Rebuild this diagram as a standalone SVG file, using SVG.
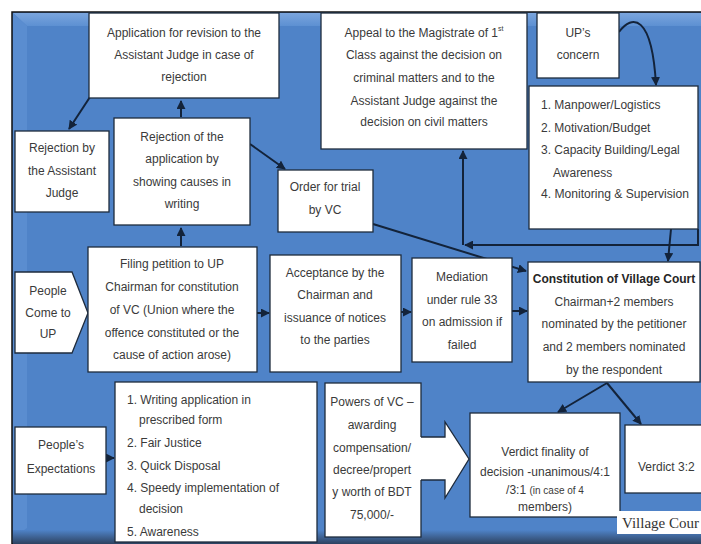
<svg xmlns="http://www.w3.org/2000/svg" width="701" height="544" viewBox="0 0 701 544">
<defs>
<style>
.box{fill:#ffffff;stroke:#1e2b3c;stroke-width:1.3}
.t{font-family:"Liberation Sans",Arial,sans-serif;font-size:12px;fill:#3a3a3a}
.c{text-anchor:middle}
.b{font-weight:bold;fill:#262626}
.ln{fill:none;stroke:#13233a;stroke-width:2}
</style>
<marker id="ah" viewBox="0 0 10 10" refX="9" refY="5" markerUnits="userSpaceOnUse" markerWidth="9" markerHeight="9" orient="auto">
<path d="M0,0 L10,5 L0,10 z" fill="#13233a"/>
</marker>
<linearGradient id="bot" x1="0" y1="0" x2="0" y2="1">
<stop offset="0" stop-color="#4f83c8"/>
<stop offset="1" stop-color="#2d4260"/>
</linearGradient>
<linearGradient id="topg" x1="0" y1="0" x2="0" y2="1">
<stop offset="0" stop-color="#7aa5dd"/>
<stop offset="1" stop-color="#5d90d2"/>
</linearGradient>
</defs>
<rect x="0" y="0" width="701" height="544" fill="#ffffff"/>
<g id="panel">
<rect x="12" y="12" width="700" height="532" fill="#4f83c8" stroke="#111111" stroke-width="1.5"/>
<polygon points="13,13 701,13 701,26 27,26" fill="url(#topg)"/>
<polygon points="13,13 27,26 27,528 13,538" fill="#5a8dd0"/>
<rect x="13" y="530" width="688" height="14" fill="url(#bot)"/>
</g>
<g id="connectors">
<path class="ln" d="M181,117 V101" marker-end="url(#ah)"/>
<path class="ln" d="M90,97 L69,129" marker-end="url(#ah)"/>
<path class="ln" d="M250,144 L285,169" marker-end="url(#ah)"/>
<path class="ln" d="M181,246 V228" marker-end="url(#ah)"/>
<path class="ln" d="M257,313 H269" marker-end="url(#ah)"/>
<path class="ln" d="M401,312 H411" marker-end="url(#ah)"/>
<path class="ln" d="M512,311 H527" marker-end="url(#ah)"/>
<path class="ln" d="M373,224 L526,271" marker-end="url(#ah)"/>
<path class="ln" d="M698,229 V245 H465" marker-end="url(#ah)"/>
<path class="ln" d="M463,245 V151" marker-end="url(#ah)"/>
<path class="ln" d="M671,229 L668,261" marker-end="url(#ah)"/>
<path class="ln" d="M619,32 C632,14 652,14 656,85" marker-end="url(#ah)"/>
<path class="ln" d="M607,383 L558,412" marker-end="url(#ah)"/>
<path class="ln" d="M607,383 L641,424" marker-end="url(#ah)"/>
<path class="ln" d="M106,458 H114" marker-end="url(#ah)"/>
</g>
<g id="n-revision">
<rect class="box" x="89" y="13" width="190" height="85"/>
<text class="t c" x="184" y="37">Application for revision to the</text>
<text class="t c" x="184" y="59">Assistant Judge in case of</text>
<text class="t c" x="184" y="81">rejection</text>
</g>
<g id="n-rejaj">
<rect class="box" x="15" y="131" width="94" height="81"/>
<text class="t c" x="62" y="152">Rejection by</text>
<text class="t c" x="62" y="175">the Assistant</text>
<text class="t c" x="62" y="197">Judge</text>
</g>
<g id="n-rejapp">
<rect class="box" x="114" y="118" width="136" height="107"/>
<text class="t c" x="182" y="141">Rejection of the</text>
<text class="t c" x="182" y="163">application by</text>
<text class="t c" x="182" y="186">showing causes in</text>
<text class="t c" x="182" y="208">writing</text>
</g>
<g id="n-order">
<rect class="box" x="278" y="170" width="95" height="62"/>
<text class="t c" x="325" y="191">Order for trial</text>
<text class="t c" x="325" y="214">by VC</text>
</g>
<g id="n-appeal">
<rect class="box" x="321" y="13" width="206" height="136"/>
<text class="t c" x="424" y="37">Appeal to the Magistrate of 1<tspan font-size="7" dy="-6">st</tspan></text>
<text class="t c" x="424" y="59">Class against the decision on</text>
<text class="t c" x="424" y="82">criminal matters and to the</text>
<text class="t c" x="424" y="105">Assistant Judge against the</text>
<text class="t c" x="424" y="126">decision on civil matters</text>
</g>
<g id="n-upconcern">
<rect class="box" x="537" y="13" width="82" height="65"/>
<text class="t c" x="578" y="37">UP’s</text>
<text class="t c" x="578" y="59">concern</text>
</g>
<g id="n-needs">
<rect class="box" x="529" y="86" width="169" height="143"/>
<text class="t" x="541" y="109">1. Manpower/Logistics</text>
<text class="t" x="541" y="132">2. Motivation/Budget</text>
<text class="t" x="541" y="154">3. Capacity Building/Legal</text>
<text class="t" x="553" y="177">Awareness</text>
<text class="t" x="541" y="198" textLength="148" lengthAdjust="spacingAndGlyphs">4. Monitoring &amp; Supervision</text>
</g>
<g id="n-people">
<polygon class="box" points="15,272 72,272 88,313 72,353 15,353"/>
<text class="t c" x="48" y="295">People</text>
<text class="t c" x="48" y="317">Come to</text>
<text class="t c" x="48" y="338">UP</text>
</g>
<g id="n-filing">
<rect class="box" x="88" y="247" width="169" height="125"/>
<text class="t c" x="172" y="268">Filing petition to UP</text>
<text class="t c" x="172" y="291">Chairman for constitution</text>
<text class="t c" x="172" y="314">of VC (Union where the</text>
<text class="t c" x="172" y="337">offence constituted or the</text>
<text class="t c" x="172" y="359">cause of action arose)</text>
</g>
<g id="n-accept">
<rect class="box" x="270" y="255" width="131" height="117"/>
<text class="t c" x="335" y="277">Acceptance by the</text>
<text class="t c" x="335" y="299">Chairman and</text>
<text class="t c" x="335" y="322">issuance of notices</text>
<text class="t c" x="335" y="344">to the parties</text>
</g>
<g id="n-mediation">
<rect class="box" x="412" y="258" width="100" height="104"/>
<text class="t c" x="462" y="281">Mediation</text>
<text class="t c" x="462" y="304">under rule 33</text>
<text class="t c" x="462" y="326">on admission if</text>
<text class="t c" x="462" y="349">failed</text>
</g>
<g id="n-constitution">
<rect class="box" x="528" y="262" width="172" height="120"/>
<text class="t c b" x="614" y="283">Constitution of Village Court</text>
<text class="t c" x="614" y="306">Chairman+2 members</text>
<text class="t c" x="614" y="328">nominated by the petitioner</text>
<text class="t c" x="614" y="351">and 2 members nominated</text>
<text class="t c" x="614" y="374">by the respondent</text>
</g>
<g id="n-expect">
<rect class="box" x="15" y="427" width="91" height="67"/>
<text class="t c" x="61" y="449">People’s</text>
<text class="t c" x="61" y="473">Expectations</text>
</g>
<g id="n-expectlist">
<rect class="box" x="115" y="382" width="202" height="160"/>
<text class="t" x="127" y="404">1. Writing application in</text>
<text class="t" x="139" y="424">prescribed form</text>
<text class="t" x="127" y="447">2. Fair Justice</text>
<text class="t" x="127" y="470">3. Quick Disposal</text>
<text class="t" x="127" y="492">4. Speedy implementation of</text>
<text class="t" x="139" y="513">decision</text>
<text class="t" x="127" y="536">5. Awareness</text>
</g>
<g id="n-powers">
<rect class="box" x="325" y="383" width="96" height="154"/>
<text class="t c" x="372" y="406">Powers of VC –</text>
<text class="t c" x="372" y="429">awarding</text>
<text class="t c" x="372" y="452">compensation/</text>
<text class="t c" x="372" y="474">decree/propert</text>
<text class="t c" x="372" y="496">y worth of BDT</text>
<text class="t c" x="372" y="519">75,000/-</text>
</g>
<g id="n-bigarrow">
<polygon points="419,437 445,437 445,422 469,459 445,498 445,480 419,480" fill="#ffffff"/>
<polyline points="421,437 445,437 445,422 469,459 445,498 445,480 421,480" fill="none" stroke="#1e2b3c" stroke-width="1.3"/>
</g>
<g id="n-verdict">
<rect class="box" x="470" y="413" width="150" height="104"/>
<text class="t c" x="545" y="456">Verdict finality of</text>
<text class="t c" x="545" y="476">decision -unanimous/4:1</text>
<text class="t c" x="545" y="494">/3:1 <tspan font-size="10">(in case of 4</tspan></text>
<text class="t c" x="545" y="511" font-size="10">members)</text>
</g>
<g id="n-verdict32">
<rect class="box" x="625" y="425" width="80" height="68"/>
<text class="t" x="638" y="471">Verdict 3:2</text>
</g>
<g id="n-label">
<rect x="617" y="511" width="90" height="23" fill="#ffffff"/>
<text x="622" y="528" font-family="'Liberation Serif','Times New Roman',serif" font-size="15" fill="#333333">Village Cour</text>
</g>
</svg>
